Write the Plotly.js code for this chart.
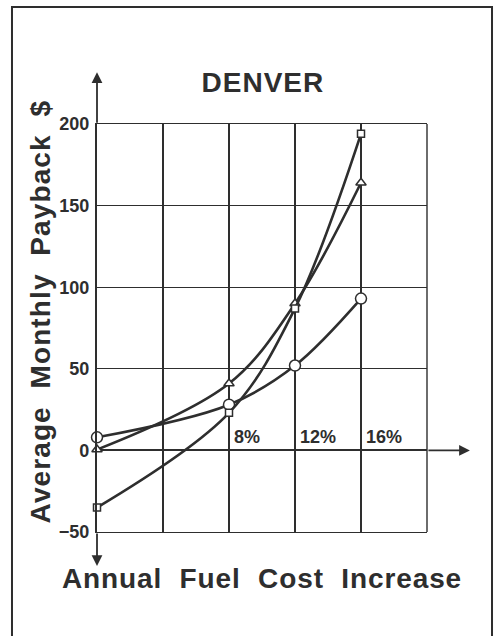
<!DOCTYPE html>
<html>
<head>
<meta charset="utf-8">
<script src="https://cdn.plot.ly/plotly-3.0.1.min.js"></script>
<style>
html,body{margin:0;padding:0;background:#fff;}
#chart{width:497px;height:636px;}
.xtitle{letter-spacing:0.9px;}
.annotation[data-index="0"] text{letter-spacing:1.1px;}
.gtitle{letter-spacing:1px;}
</style>
</head>
<body>
<div id="chart"></div>
<script>
// Annual fuel cost increase (%)
var fuelIncrease = [0, 8, 12, 16];
// Average monthly payback ($) for three systems
var squareSeries = [-35, 23, 87, 194];
var triangleSeries = [0.5, 41, 90, 164];
var circleSeries = [8, 28, 52, 93];
// Labels drawn along the x axis
var xLabelVals = [8, 12, 16];
var xLabelText = ['8%', '12%', '16%'];
var yTickVals = [-50, 0, 50, 100, 150, 200];
var yTickText = ['\u221250', '0', '50', '100', '150', '200'];

var ink = '#2e2e2e';
var FONT = 'Liberation Sans, Arial, Helvetica, sans-serif';

function series(yv, symbol, size) {
  return {
    x: fuelIncrease, y: yv, type: 'scatter', mode: 'lines+markers',
    line: {color: ink, width: 2.6, shape: 'spline', smoothing: 1},
    marker: {symbol: symbol, size: size, color: '#ffffff', line: {color: ink, width: 1.5}},
    cliponaxis: false, showlegend: false, hoverinfo: 'skip'
  };
}

var data = [
  series(circleSeries, 'circle', 11),
  series(triangleSeries, 'triangle-up', 9),
  series(squareSeries, 'square', 7)
];

var annotations = [];
// y axis title (placed as annotation to match its offset position)
annotations.push({x: -0.1697, y: 0.5417, xref: 'paper', yref: 'paper', text: 'Average  Monthly  Payback  $',
  textangle: -90, showarrow: false, xanchor: 'center', yanchor: 'middle',
  font: {family: FONT, size: 28, color: ink, weight: 'bold'}});
xLabelVals.forEach(function (v, i) {
  annotations.push({x: v, y: 0, xref: 'x', yref: 'y', text: xLabelText[i], showarrow: false,
    xanchor: 'left', yanchor: 'bottom', xshift: 3, yshift: 1,
    font: {family: FONT, size: 18, color: ink, weight: 'bold'}});
});
// axis arrows
annotations.push({x: 0, y: 1.127, xref: 'x', yref: 'paper', ax: 0, ay: 52, axref: 'pixel', ayref: 'pixel',
  text: '', showarrow: true, arrowhead: 2, arrowsize: 1.2, arrowwidth: 1.8, arrowcolor: ink});
annotations.push({x: 0, y: -0.0833, xref: 'x', yref: 'paper', ax: 0, ay: -34, axref: 'pixel', ayref: 'pixel',
  text: '', showarrow: true, arrowhead: 2, arrowsize: 1.2, arrowwidth: 1.8, arrowcolor: ink});
annotations.push({x: 1.13, y: 0, xref: 'paper', yref: 'y', ax: -43, ay: 0, axref: 'pixel', ayref: 'pixel',
  text: '', showarrow: true, arrowhead: 2, arrowsize: 1.2, arrowwidth: 1.8, arrowcolor: ink});

var layout = {
  width: 497, height: 636,
  margin: {l: 97, r: 70, t: 124, b: 104, pad: 0},
  paper_bgcolor: '#ffffff', plot_bgcolor: '#ffffff',
  font: {family: FONT, color: ink},
  title: {text: 'DENVER', x: 0.529, xref: 'container', xanchor: 'center',
    y: 1 - 82 / 636, yref: 'container', yanchor: 'middle',
    font: {family: FONT, size: 28, weight: 'bold', color: ink}},
  xaxis: {range: [0, 20], dtick: 4, tick0: 0, showgrid: true, gridcolor: ink, gridwidth: 1.4,
    showticklabels: false, ticks: '', zeroline: false,
    showline: true, linecolor: ink, linewidth: 1.4, mirror: true,
    title: {text: 'Annual  Fuel  Cost  Increase', standoff: 36,
      font: {family: FONT, size: 28, weight: 'bold', color: ink}}},
  yaxis: {range: [-50, 200], tickvals: yTickVals, ticktext: yTickText, showgrid: true,
    gridcolor: ink, gridwidth: 1.4, ticks: '', ticklabelstandoff: 2,
    tickfont: {family: FONT, size: 18, weight: 'bold', color: ink},
    zeroline: true, zerolinecolor: ink, zerolinewidth: 2,
    showline: true, linecolor: ink, linewidth: 2.2, mirror: false},
  annotations: annotations,
  shapes: [
    {type: 'rect', xref: 'paper', yref: 'paper', x0: -0.2576, x1: 1.197, y0: -0.27, y1: 1.2868,
      line: {color: ink, width: 2}, fillcolor: 'rgba(0,0,0,0)', layer: 'below'},
    {type: 'line', xref: 'paper', yref: 'paper', x0: 1, x1: 1, y0: 0, y1: 1,
      line: {color: ink, width: 1.4}, layer: 'below'}
  ]
};

Plotly.newPlot('chart', data, layout, {displayModeBar: false, staticPlot: true});
</script>
</body>
</html>
